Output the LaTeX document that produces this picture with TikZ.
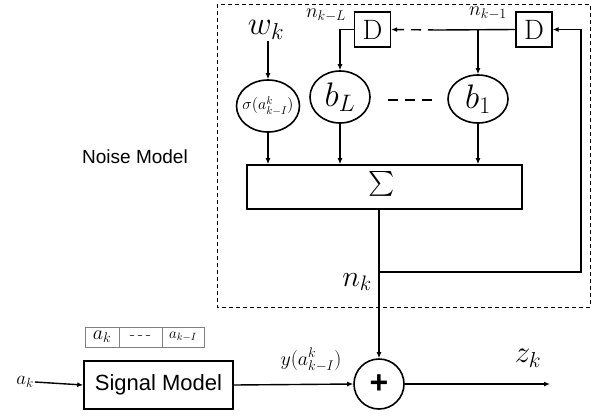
\RequirePackage{fix-cm}
\documentclass[tikz,border=0pt]{standalone}
\usepackage{exscale}
\usepackage[no-math]{fontspec}
\newfontfamily\arialf{Liberation Sans}
\usetikzlibrary{arrows.meta,shapes.geometric}
\newcommand\fs[1]{\fontsize{#1}{#1}\selectfont}
\tikzset{
  ln/.style={line width=1.4pt},
  arr/.style={ln, -{Latex[length=6pt,width=5pt]}},
  ell/.style={ellipse, draw, line width=1.6pt, minimum width=60pt, minimum height=50pt, inner sep=0pt},
  dbox/.style={draw, line width=1.4pt, minimum width=36pt, minimum height=35pt, inner sep=0pt},
  cell/.style={draw=gray, line width=0.6pt, minimum height=20pt, inner sep=0pt},
  lbl/.style={inner sep=1pt},
  dsh/.style={dash pattern=on 10pt off 7pt}
}
\begin{document}
\begin{tikzpicture}[x=1pt,y=-1pt]
\path[use as bounding box] (0,0) rectangle (597,416);
\draw[line width=0.8pt, dash pattern=on 4pt off 3pt] (217,4) rectangle (590,307);
\node[lbl, font=\arialf\fs{19}] (noise) at (135,157) {Noise Model};
\node[lbl] (wk) at (266,30) {\fs{33}$w_k$};
\node[ell, minimum width=63pt, minimum height=52pt] (sig) at (268,106) {};
\node[lbl, inner sep=0pt] (sigl) at (sig.center) {\fs{16}$\sigma(a^k_{k-I})$};
\node[ell, minimum height=52pt] (bL) at (340,97) {\fs{34}$b_L$};
\node[ell, minimum height=48pt] (b1) at (478,99) {\fs{34}$b_1$};
\node[dbox] (dL) at (372.5,29.5) {\fs{28}$\mathrm{D}$};
\node[dbox] (d1) at (534,29.5) {\fs{28}$\mathrm{D}$};
\node[lbl] (nL) at (326,15) {\fs{20}$n_{k-L}$};
\node[lbl] (n1) at (488,13) {\fs{20}$n_{k-1}$};
\node[draw, line width=1.6pt, minimum width=275pt, minimum height=44pt] (sum) at (384.5,187) {};
\node[lbl] (sumsym) at (382,184) {\fs{30}$\textstyle\sum$};
\node[circle, draw, line width=1.6pt, minimum size=50pt, inner sep=0pt, font=\arialf\bfseries\fs{32}] (plus) at (379,384) {+};
\node[draw, line width=1.6pt, minimum width=149pt, minimum height=48pt, font=\arialf\fs{22}] (sm) at (158.5,385) {Signal Model};
\node[lbl] (ak) at (25,382) {\fs{19}$a_k$};
\node[cell, minimum width=34pt] (c1) at (102,337) {\fs{20}$a_k$};
\node[cell, minimum width=43pt] (c2) at (140.5,337) {\fs{17}-\,-\,-};
\node[cell, minimum width=42pt] (c3) at (183,337) {\fs{15}$a_{k-I}$};
\node[lbl] (ylab) at (311,360) {\fs{20}$y(a^k_{k-I})$};
\node[lbl] (zk) at (528,358) {\fs{31}$z_k$};
\node[lbl] (nk) at (357,282) {\fs{30}$n_k$};
\coordinate (jn) at (379,272);
\coordinate (fb) at (581,272);
\coordinate (zend) at (550,384);
\coordinate (dsplit) at (438,30);
\coordinate (br) at (b1.north |- d1.west);
\coordinate (dl) at (388,100);
\coordinate (dr) at (433,100);
\draw[arr] (wk.south -| sig.north) -- (sig.north);
\draw[arr] (dL.west) -| (bL.north);
\draw[ln] (d1.west) -- (dsplit);
\draw[arr, dsh] (dsplit) -- (dL.east);
\draw[arr] (br) -- (b1.north);
\draw[ln, dsh] (dl) -- (dr);
\draw[arr] (sig.south) -- (sig.south |- sum.north);
\draw[arr] (bL.south) -- (bL.south |- sum.north);
\draw[arr] (b1.south) -- (b1.south |- sum.north);
\draw[ln] (sum.south -| plus.north) -- (jn);
\draw[arr] (jn) -- (plus.north);
\draw[arr] (jn) -- (fb) |- (d1.east);
\draw[arr] (sm.east) -- (plus.west);
\draw[arr] (plus.east) -- (zend);
\draw[arr] (ak.east) -- (sm.west);
\end{tikzpicture}
\end{document}
